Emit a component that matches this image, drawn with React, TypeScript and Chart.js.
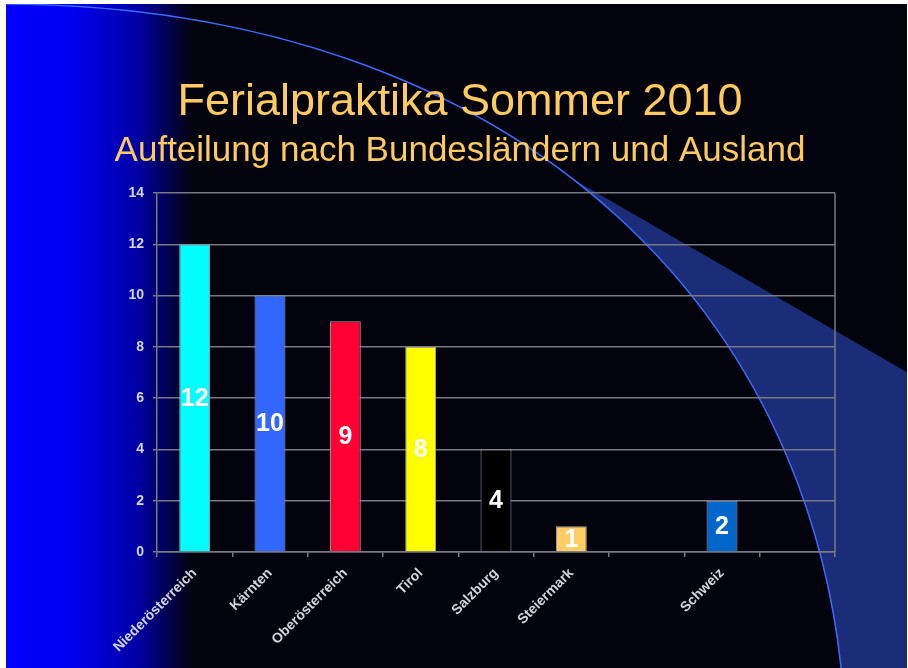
import { useEffect, useRef } from "react";
import { Chart, registerables } from "chart.js";

Chart.register(...registerables);

const categories = [
  "Niederösterreich",
  "Kärnten",
  "Oberösterreich",
  "Tirol",
  "Salzburg",
  "Steiermark",
  "",
  "Schweiz",
  "",
];
const values: (number | null)[] = [12, 10, 9, 8, 4, 1, null, 2, null];
const barColors = [
  "#00FFFF",
  "#3366FF",
  "#FF0033",
  "#FFFF00",
  "#000000",
  "#FFCC66",
  "#000000",
  "#0066CC",
  "#000000",
];
const yMin = 0;
const yMax = 14;
const yStep = 2;
const titleText = "Ferialpraktika Sommer 2010";
const subtitleText = "Aufteilung nach Bundesländern und Ausland";

const FONT = "'Liberation Sans', Arial, Helvetica, sans-serif";
const GRID = "#787886";
const TICK_TEXT = "#d4d4dc";

const slideBackground = {
  id: "slideBackground",
  beforeDraw(chart: any) {
    const ctx = chart.ctx as CanvasRenderingContext2D;
    const W = chart.width;
    const H = chart.height;
    ctx.save();
    ctx.fillStyle = "#ffffff";
    ctx.fillRect(0, 0, W, H);
    const L = 6, T = 4, R = 907, B = H;
    ctx.beginPath();
    ctx.rect(L, T, R - L, B - T);
    ctx.clip();
    ctx.fillStyle = "#03030e";
    ctx.fillRect(L, T, R - L, B - T);
    const g = ctx.createLinearGradient(L, 0, 192, 0);
    g.addColorStop(0, "#0000ff");
    g.addColorStop(0.35, "#0000f0");
    g.addColorStop(0.7, "#0000a8");
    g.addColorStop(1, "#03030e");
    ctx.fillStyle = g;
    ctx.fillRect(L, T, 192 - L, B - T);

    const arcPath = () => {
      ctx.moveTo(0, 4);
      ctx.bezierCurveTo(520, 4, 846, 320, 846, 760);
    };
    ctx.save();
    ctx.beginPath();
    arcPath();
    ctx.lineTo(1000, 760);
    ctx.lineTo(1000, -10);
    ctx.lineTo(0, -10);
    ctx.closePath();
    ctx.clip();
    ctx.beginPath();
    ctx.moveTo(540, 160);
    ctx.lineTo(910, 374);
    ctx.lineTo(910, 700);
    ctx.lineTo(700, 700);
    ctx.closePath();
    ctx.fillStyle = "#1b2d78";
    ctx.fill();
    ctx.restore();

    ctx.beginPath();
    arcPath();
    ctx.strokeStyle = "#3a6bff";
    ctx.lineWidth = 1.5;
    ctx.stroke();
    ctx.restore();
  },
  beforeDatasetsDraw(chart: any) {
    const { ctx, chartArea } = chart;
    ctx.save();
    ctx.strokeStyle = GRID;
    ctx.lineWidth = 1.5;
    ctx.beginPath();
    ctx.moveTo(chartArea.right, chartArea.top);
    ctx.lineTo(chartArea.right, chartArea.bottom);
    ctx.stroke();
    ctx.restore();
  },
};

const barValueLabels = {
  id: "barValueLabels",
  afterDatasetsDraw(chart: any) {
    const ctx = chart.ctx as CanvasRenderingContext2D;
    const meta = chart.getDatasetMeta(0);
    ctx.save();
    ctx.fillStyle = "#ffffff";
    ctx.font = `bold 25px ${FONT}`;
    ctx.textAlign = "center";
    ctx.textBaseline = "middle";
    meta.data.forEach((el: any, i: number) => {
      const v = values[i];
      if (v === null || v === undefined) return;
      ctx.fillText(String(v), el.x, (el.y + el.base) / 2 + 1);
    });
    ctx.restore();
  },
};

export default function App() {
  const ref = useRef<HTMLCanvasElement | null>(null);

  useEffect(() => {
    if (!ref.current) return;
    Chart.defaults.font.family = FONT;
    const chart = new Chart(ref.current, {
      type: "bar",
      data: {
        labels: categories,
        datasets: [
          {
            data: values,
            backgroundColor: barColors,
            borderColor: "#a4a4ae",
            borderWidth: 1,
            categoryPercentage: 1,
            barPercentage: 0.41,
          },
        ],
      },
      options: {
        responsive: false,
        animation: false,
        devicePixelRatio: 1,
        layout: { padding: { left: 85, right: 73, top: 0, bottom: 0 } },
        plugins: {
          legend: { display: false },
          tooltip: { enabled: false },
          title: {
            display: true,
            text: titleText,
            color: "#FFCA60",
            font: { family: FONT, size: 45, weight: "normal", lineHeight: 1.2 },
            padding: { top: 76, bottom: 0 },
          },
          subtitle: {
            display: true,
            text: subtitleText,
            color: "#FFCA60",
            font: { family: FONT, size: 35, weight: "normal", lineHeight: 1.2 },
            padding: { top: 0, bottom: 21 },
          },
        },
        scales: {
          x: {
            afterFit: (s: any) => {
              s.height = 116;
            },
            grid: {
              display: true,
              drawOnChartArea: false,
              drawTicks: true,
              tickLength: 5,
              color: GRID,
              lineWidth: 1.5,
              offset: true,
            },
            border: { display: true, color: GRID, width: 1.5 },
            ticks: {
              autoSkip: false,
              maxRotation: 45,
              minRotation: 45,
              color: TICK_TEXT,
              font: { family: FONT, size: 14, weight: "bold" },
              padding: 8,
            },
          },
          y: {
            min: yMin,
            max: yMax,
            afterFit: (s: any) => {
              s.width = 72;
            },
            grid: {
              color: GRID,
              lineWidth: 1.5,
              tickLength: 4,
            },
            border: { display: true, color: GRID, width: 1.5 },
            ticks: {
              stepSize: yStep,
              color: TICK_TEXT,
              font: { family: FONT, size: 14, weight: "bold" },
              padding: 9,
            },
          },
        },
      },
      plugins: [slideBackground, barValueLabels],
    });
    return () => chart.destroy();
  }, []);

  return (
    <div style={{ position: "absolute", left: 0, top: 0, width: 908, height: 668 }}>
      <canvas ref={ref} width={908} height={668} style={{ display: "block" }} />
    </div>
  );
}
